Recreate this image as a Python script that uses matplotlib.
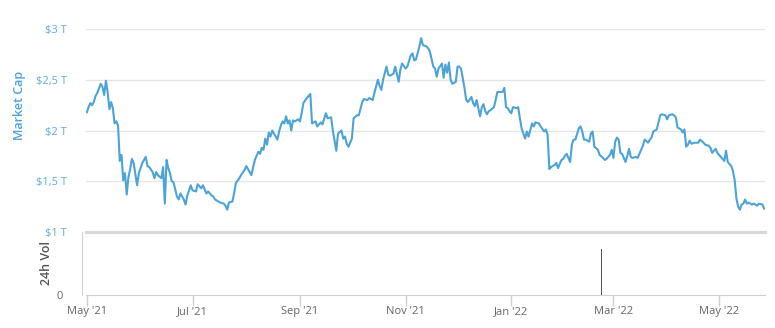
"""Total crypto market cap, May '21 - May '22, with a 24h volume strip underneath."""

import numpy as np
import matplotlib

matplotlib.use("Agg")
import matplotlib.pyplot as plt

START = np.datetime64("2021-05-01")

# Day offsets from START and market cap in trillions of USD.
CAP_DAYS = [
    0, 1, 2, 3, 4, 5, 6, 8, 9, 10, 11, 12, 13, 14, 15, 16, 17, 18, 19, 20,
    21, 22, 23, 24, 25, 26, 27, 29, 30, 31, 32, 34, 35, 36, 38, 39, 40, 41, 43, 44,
    45, 46, 47, 48, 49, 50, 52, 53, 54, 56, 57, 58, 60, 61, 63, 64, 66, 67, 69, 70,
    72, 73, 74, 76, 77, 79, 80, 81, 82, 84, 85, 86, 88, 89, 91, 92, 94, 95, 96, 97,
    99, 100, 101, 102, 103, 104, 105, 106, 107, 108, 110, 111, 112, 113, 114, 115, 116, 117, 118, 119,
    120, 122, 123, 124, 125, 127, 129, 130, 132, 133, 135, 136, 138, 139, 141, 142, 144, 145, 147, 148,
    149, 150, 151, 153, 154, 156, 157, 159, 160, 162, 163, 164, 165, 166, 168, 169, 170, 171, 173, 174,
    175, 177, 178, 180, 181, 182, 184, 185, 187, 188, 189, 190, 192, 193, 194, 196, 197, 198, 200, 201,
    202, 203, 205, 206, 207, 208, 209, 210, 211, 213, 214, 215, 216, 218, 219, 220, 222, 223, 224, 225,
    227, 228, 229, 230, 231, 232, 233, 235, 236, 237, 239, 240, 241, 242, 243, 244, 245, 246, 248, 249,
    250, 251, 253, 254, 255, 257, 258, 259, 261, 262, 264, 265, 266, 267, 268, 270, 271, 272, 274, 275,
    276, 277, 279, 280, 281, 282, 284, 285, 286, 287, 288, 290, 291, 292, 293, 295, 296, 298, 299, 300,
    302, 303, 304, 305, 306, 307, 308, 309, 311, 312, 313, 314, 315, 317, 318, 320, 321, 322, 324, 325,
    326, 327, 329, 330, 331, 332, 334, 335, 336, 338, 339, 340, 341, 343, 344, 345, 346, 347, 348, 349,
    351, 353, 354, 356, 357, 359, 360, 361, 363, 364, 366, 367, 368, 369, 370, 372, 373, 374, 375, 376,
    377, 378, 379, 380, 381, 382, 384, 385, 387, 388, 390, 391,
]
CAP_VALUES = [
    2.18, 2.23, 2.27, 2.25, 2.28, 2.34, 2.37, 2.46, 2.43, 2.35, 2.49, 2.38, 2.21, 2.28, 2.22, 2.07, 2.09, 2.05, 1.70, 1.76,
    1.51, 1.58, 1.37, 1.54, 1.62, 1.72, 1.68, 1.46, 1.58, 1.63, 1.68, 1.74, 1.65, 1.64, 1.59, 1.53, 1.59, 1.56, 1.53, 1.64,
    1.28, 1.71, 1.63, 1.58, 1.50, 1.49, 1.35, 1.32, 1.38, 1.32, 1.27, 1.36, 1.46, 1.41, 1.40, 1.47, 1.43, 1.46, 1.38, 1.40,
    1.36, 1.35, 1.32, 1.30, 1.29, 1.28, 1.26, 1.22, 1.29, 1.30, 1.38, 1.48, 1.53, 1.56, 1.61, 1.65, 1.59, 1.56, 1.64, 1.71,
    1.79, 1.77, 1.83, 1.81, 1.92, 1.86, 1.98, 1.94, 2.00, 1.97, 1.91, 1.99, 2.05, 2.09, 2.07, 2.14, 2.07, 2.10, 2.00, 2.10,
    2.09, 2.11, 2.09, 2.17, 2.27, 2.32, 2.36, 2.07, 2.09, 2.04, 2.08, 2.06, 2.17, 2.12, 2.13, 2.00, 1.80, 1.97, 2.00, 1.92,
    1.94, 1.87, 1.84, 1.92, 2.12, 2.15, 2.15, 2.28, 2.31, 2.30, 2.32, 2.31, 2.30, 2.37, 2.50, 2.44, 2.40, 2.50, 2.63, 2.55,
    2.54, 2.56, 2.63, 2.48, 2.60, 2.66, 2.61, 2.63, 2.74, 2.76, 2.69, 2.70, 2.83, 2.91, 2.84, 2.83, 2.81, 2.78, 2.63, 2.61,
    2.53, 2.61, 2.66, 2.52, 2.65, 2.57, 2.67, 2.50, 2.46, 2.48, 2.63, 2.63, 2.61, 2.42, 2.30, 2.28, 2.33, 2.27, 2.24, 2.30,
    2.14, 2.23, 2.26, 2.19, 2.16, 2.19, 2.20, 2.23, 2.30, 2.38, 2.38, 2.38, 2.42, 2.23, 2.22, 2.19, 2.17, 2.23, 2.22, 2.23,
    2.12, 2.02, 1.92, 1.99, 1.94, 2.07, 2.04, 2.08, 2.07, 2.04, 1.99, 2.01, 1.96, 1.62, 1.64, 1.66, 1.68, 1.63, 1.71, 1.72,
    1.75, 1.77, 1.69, 1.86, 1.91, 1.91, 2.02, 2.04, 1.99, 1.91, 1.91, 1.89, 1.97, 1.99, 1.84, 1.81, 1.76, 1.73, 1.71, 1.72,
    1.76, 1.81, 1.73, 1.89, 1.93, 1.91, 1.78, 1.77, 1.69, 1.75, 1.82, 1.74, 1.73, 1.74, 1.73, 1.81, 1.85, 1.91, 1.88, 1.91,
    1.93, 1.99, 2.01, 2.08, 2.15, 2.16, 2.15, 2.11, 2.15, 2.16, 2.15, 2.13, 2.03, 2.01, 1.98, 2.01, 1.84, 1.86, 1.90, 1.87,
    1.88, 1.88, 1.91, 1.88, 1.86, 1.85, 1.83, 1.78, 1.82, 1.78, 1.74, 1.72, 1.70, 1.80, 1.69, 1.65, 1.60, 1.51, 1.33, 1.25,
    1.22, 1.27, 1.28, 1.32, 1.28, 1.29, 1.27, 1.28, 1.26, 1.28, 1.27, 1.23,
]

# The volume strip only shows a single reported value.
VOL_DAYS = [297]
VOL_VALUES = [1.0]

CAP_TICKS = [1.0, 1.5, 2.0, 2.5, 3.0]
CAP_TICK_LABELS = ["$1 T", "$1,5 T", "$2 T", "$2,5 T", "$3 T"]
MONTH_TICKS = ["2021-05-01", "2021-07-01", "2021-09-01", "2021-11-01",
               "2022-01-01", "2022-03-01", "2022-05-01"]
MONTH_LABELS = ["May '21", "Jul '21", "Sep '21", "Nov '21", "Jan '22", "Mar '22", "May '22"]

LINE = "#4ba3d6"
LABEL_BLUE = "#5aaed8"
GRID = "#e6e6e6"
TEXT = "#666666"

plt.rcParams["font.family"] = ["Open Sans", "DejaVu Sans"]

W, H = 775, 328
fig = plt.figure(figsize=(W / 100, H / 100), dpi=100)


def box(x0, y0, x1, y1):
    """Axes rectangle from pixel corners (top-left origin)."""
    return [x0 / W, 1 - y1 / H, (x1 - x0) / W, (y1 - y0) / H]


ax = fig.add_axes(box(86, 29, 765, 232))
axv = fig.add_axes(box(86, 232, 765, 295), sharex=ax)

cap_dates = START + np.array(CAP_DAYS).astype("timedelta64[D]")
vol_dates = START + np.array(VOL_DAYS).astype("timedelta64[D]")

ax.plot(cap_dates, CAP_VALUES, color=LINE, lw=1.5, solid_joinstyle="round", zorder=3)
ax.set_ylim(1.0, 3.0)
ax.set_yticks(CAP_TICKS)
ax.set_yticklabels(CAP_TICK_LABELS)
ax.tick_params(axis="y", length=0, pad=14, labelsize=8, labelcolor=LABEL_BLUE)
ax.tick_params(axis="x", bottom=False, labelbottom=False)
ax.grid(axis="y", color=GRID, lw=1.0)
ax.set_axisbelow(True)
for s in ax.spines.values():
    s.set_visible(False)

axv.bar(vol_dates, VOL_VALUES, width=0.9, color="#555555", zorder=3)
axv.set_ylim(0, 1.37)
axv.set_yticks([0])
axv.set_yticklabels(["0"])
axv.tick_params(axis="y", length=0, pad=14, labelsize=8, labelcolor=TEXT)
for side in ("right", "top"):
    axv.spines[side].set_visible(False)
axv.spines["left"].set_color("#d0d0d0")
axv.spines["left"].set_position(("outward", 3))
axv.spines["bottom"].set_color("#d0d0d0")
axv.axhline(axv.get_ylim()[1], color="#d8d8d8", lw=2.2, clip_on=False, zorder=4)

axv.set_xticks(np.array(MONTH_TICKS, dtype="datetime64[D]"))
axv.set_xticklabels(MONTH_LABELS)
axv.tick_params(axis="x", length=8, width=1, color="#d0d0d0", pad=0,
                labelsize=8, labelcolor=TEXT)
axv.set_xlim(START - np.timedelta64(12, "h"), START + np.timedelta64(9396, "h"))

fig.text(20 / W, 1 - 105 / H, "Market Cap", rotation=90, ha="center", va="center",
         fontsize=9, color=LINE, fontweight="semibold")
fig.text(47 / W, 1 - 263 / H, "24h Vol", rotation=90, ha="center", va="center",
         fontsize=9, color="#555555", fontweight="semibold")

fig.savefig("out.png", dpi=100)
